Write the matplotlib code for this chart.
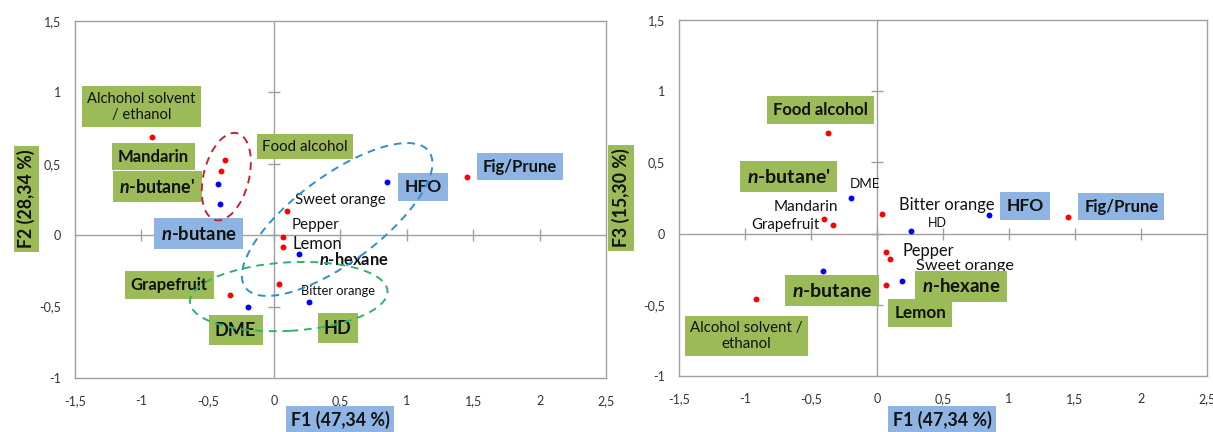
import matplotlib
matplotlib.use('Agg')
import matplotlib.pyplot as plt
from matplotlib.patches import Ellipse

plt.rcParams['font.family'] = ['Lato', 'DejaVu Sans']
plt.rcParams['mathtext.fontset'] = 'custom'
plt.rcParams['mathtext.it'] = 'Lato:italic:bold'
plt.rcParams['mathtext.rm'] = 'Lato:bold'

# PCA scores (F1, F2, F3)
names = ['Alcohol solvent / ethanol', 'Food alcohol', 'Mandarin', "n-butane'", 'n-butane',
         'Sweet orange', 'Pepper', 'Lemon', 'n-hexane', 'Bitter orange', 'HD', 'HFO',
         'Fig/Prune', 'Grapefruit', 'DME']
f1 = [-0.92, -0.37, -0.40, -0.42, -0.41, 0.10, 0.07, 0.07, 0.19, 0.04, 0.26, 0.85, 1.45, -0.33, -0.20]
f2 = [0.69, 0.53, 0.45, 0.36, 0.22, 0.17, -0.01, -0.08, -0.13, -0.34, -0.47, 0.37, 0.41, -0.42, -0.50]
f3 = [-0.46, 0.71, 0.10, 0.40, -0.26, -0.18, -0.13, -0.36, -0.33, 0.14, 0.02, 0.13, 0.12, 0.06, 0.25]
group = ['raw', 'raw', 'raw', 'ext', 'ext', 'raw', 'raw', 'raw', 'ext', 'raw', 'ext', 'ext',
         'raw', 'raw', 'ext']

xticks = [-1.5, -1, -0.5, 0, 0.5, 1, 1.5, 2, 2.5]
xticklabels = ['-1,5', '-1', '-0,5', '0', '0,5', '1', '1,5', '2', '2,5']
yticks = [-1, -0.5, 0, 0.5, 1, 1.5]
yticklabels = ['-1', '-0,5', '0', '0,5', '1', '1,5']

GREEN = '#9BBB59'
BLUE = '#8DB4E2'
GRID = '#A0A0A0'

# label layout: text, x, y, box, size, weight, ha
labels_f2 = [
    ('Alchohol solvent\n/ ethanol', -1.00, 0.90, GREEN, 10.6, 'normal', 'center'),
    ('Mandarin', -0.91, 0.55, GREEN, 12, 'bold', 'center'),
    ("$n$-butane'", -0.88, 0.34, GREEN, 12.8, 'bold', 'center'),
    ('Food alcohol', 0.23, 0.62, GREEN, 10.9, 'normal', 'center'),
    ('$n$-butane', -0.57, 0.01, BLUE, 13.3, 'bold', 'center'),
    ('Fig/Prune', 1.85, 0.48, BLUE, 12, 'bold', 'center'),
    ('HFO', 1.12, 0.34, BLUE, 12.5, 'bold', 'center'),
    ('Sweet orange', 0.16, 0.245, None, 10.8, 'normal', 'left'),
    ('Pepper', 0.13, 0.07, None, 10.9, 'normal', 'left'),
    ('Lemon', 0.135, -0.063, None, 12, 'normal', 'left'),
    ('$n$-hexane', 0.34, -0.17, None, 11.9, 'bold', 'left'),
    ('Bitter orange', 0.20, -0.39, None, 9.3, 'normal', 'left'),
    ('HD', 0.48, -0.65, GREEN, 13, 'bold', 'center'),
    ('Grapefruit', -0.79, -0.35, GREEN, 12, 'bold', 'center'),
    ('DME', -0.29, -0.665, GREEN, 13, 'bold', 'center'),
]
labels_f3 = [
    ('Food alcohol', -0.43, 0.87, GREEN, 12, 'bold', 'center'),
    ("$n$-butane'", -0.67, 0.40, GREEN, 14, 'bold', 'center'),
    ('DME', -0.205, 0.35, None, 9.6, 'normal', 'left'),
    ('Mandarin', -0.78, 0.19, None, 11, 'normal', 'left'),
    ('Grapefruit', -0.95, 0.063, None, 10.8, 'normal', 'left'),
    ('Bitter orange', 0.167, 0.20, None, 11.9, 'normal', 'left'),
    ('HD', 0.386, 0.077, None, 9, 'normal', 'left'),
    ('HFO', 1.12, 0.196, BLUE, 12.5, 'bold', 'center'),
    ('Fig/Prune', 1.85, 0.19, BLUE, 12, 'bold', 'center'),
    ('Pepper', 0.19, -0.12, None, 11.9, 'normal', 'left'),
    ('Sweet orange', 0.295, -0.224, None, 11.7, 'normal', 'left'),
    ('$n$-hexane', 0.636, -0.37, GREEN, 13.4, 'bold', 'center'),
    ('Lemon', 0.326, -0.56, GREEN, 12.3, 'bold', 'center'),
    ('$n$-butane', -0.34, -0.40, GREEN, 14, 'bold', 'center'),
    ('Alcohol solvent /\nethanol', -0.99, -0.72, GREEN, 10.8, 'normal', 'center'),
]

# dashed group ellipses on F1/F2: centre x, centre y, width, height, angle, colour
ellipses = [
    (-0.36, 0.41, 0.63, 0.34, 74, '#C0282D'),
    (0.475, 0.11, 1.68, 0.62, 34, '#2F8FD0'),
    (0.11, -0.43, 1.49, 0.48, 3, '#2DB36A'),
]


def setup(ax):
    ax.set_xlim(-1.5, 2.5)
    ax.set_ylim(-1, 1.5)
    ax.set_xticks(xticks)
    ax.set_xticklabels(xticklabels)
    ax.set_yticks(yticks)
    ax.set_yticklabels(yticklabels)
    ax.tick_params(length=0, labelsize=9, colors='#333333')
    ax.tick_params(axis='x', pad=12)
    ax.tick_params(axis='y', pad=10)
    for s in ax.spines.values():
        s.set_color(GRID)
        s.set_linewidth(1)
    ax.axhline(0, color=GRID, lw=1, zorder=1)
    ax.axvline(0, color=GRID, lw=1, zorder=1)
    ax.plot(xticks[1:-1], [0] * (len(xticks) - 2), ls='none', marker='|', ms=8, mew=1, color=GRID, zorder=1)
    ax.plot([0] * (len(yticks) - 2), yticks[1:-1], ls='none', marker='_', ms=8, mew=1, color=GRID, zorder=1)


def draw(ax, ys, labels):
    for x, y, g in zip(f1, ys, group):
        ax.scatter(x, y, s=18, color='red' if g == 'raw' else 'blue', zorder=3, linewidths=0)
    for txt, x, y, box, size, weight, ha in labels:
        bb = None
        if box:
            bb = dict(boxstyle='square,pad=0.35', facecolor=box, edgecolor='none')
        ax.text(x, y, txt, fontsize=size, fontweight=weight, ha=ha, va='center',
                multialignment='center', bbox=bb, zorder=4, color='#111111')


fig = plt.figure(figsize=(12.13, 4.32), dpi=100)
ax1 = fig.add_axes([0.0618, 0.125, 0.4378, 0.8264])
ax2 = fig.add_axes([0.5598, 0.1296, 0.4353, 0.824])

setup(ax1)
draw(ax1, f2, labels_f2)
for cx, cy, w, h, a, c in ellipses:
    ax1.add_patch(Ellipse((cx, cy), w, h, angle=a, fill=False, edgecolor=c,
                          linestyle=(0, (4, 3)), linewidth=1.4, zorder=5))

setup(ax2)
draw(ax2, f3, labels_f3)

axlab = dict(fontsize=12.8, fontweight='bold', ha='center', va='center', color='#111111')
fig.text(0.2803, 0.028, 'F1 (47,34 %)', bbox=dict(boxstyle='square,pad=0.25', facecolor=BLUE, edgecolor='none'), **axlab)
fig.text(0.7766, 0.028, 'F1 (47,34 %)', bbox=dict(boxstyle='square,pad=0.25', facecolor=BLUE, edgecolor='none'), **axlab)
fig.text(0.0218, 0.539, 'F2 (28,34 %)', rotation=90, bbox=dict(boxstyle='square,pad=0.2', facecolor=GREEN, edgecolor='none'), **axlab)
fig.text(0.512, 0.5417, 'F3 (15,30 %)', rotation=90, bbox=dict(boxstyle='square,pad=0.2', facecolor=GREEN, edgecolor='none'), **axlab)

fig.savefig('out.png', dpi=100)
